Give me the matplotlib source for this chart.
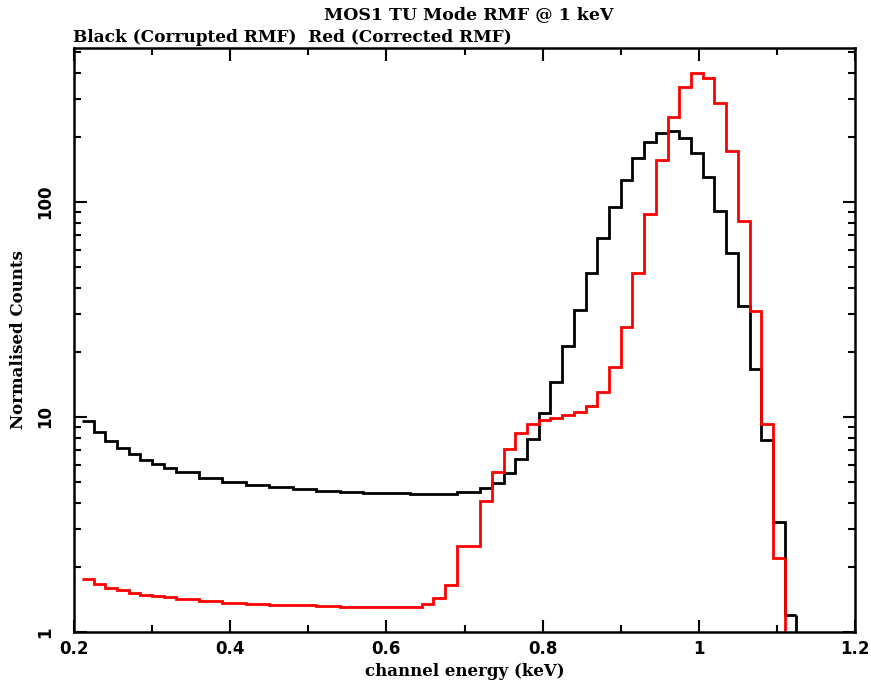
import numpy as np
import matplotlib
matplotlib.use("Agg")
import matplotlib.pyplot as plt
from matplotlib.ticker import FixedLocator, NullFormatter, FixedFormatter

# channel bins (keV), width 0.015 keV starting at 0.21
bin_start = 0.21
bin_width = 0.015

# Black: corrupted RMF
corrupted = [9.58, 8.49, 7.73, 7.15, 6.73, 6.29, 6.03, 5.77, 5.55, 5.55,
             5.20, 5.20, 4.98, 4.98, 4.83, 4.83, 4.70, 4.70, 4.61, 4.61,
             4.53, 4.53, 4.47, 4.47, 4.42, 4.42, 4.42, 4.42, 4.39, 4.39,
             4.39, 4.39, 4.50, 4.50, 4.66, 4.92, 5.47, 6.35, 7.90, 10.4,
             14.6, 21.3, 31.6, 46.7, 67.8, 95.0, 127, 160, 191, 210,
             214, 199, 169, 130, 90.8, 58.1, 32.7, 16.8, 7.82, 3.24,
             1.20]

# Red: corrected RMF
corrected = [1.76, 1.68, 1.61, 1.56, 1.52, 1.49, 1.47, 1.45, 1.42, 1.42,
             1.39, 1.39, 1.36, 1.36, 1.35, 1.35, 1.34, 1.34, 1.33, 1.33,
             1.32, 1.32, 1.31, 1.31, 1.30, 1.30, 1.30, 1.30, 1.31, 1.35,
             1.44, 1.66, 2.51, 2.51, 4.08, 5.55, 7.10, 8.40, 9.28, 9.68,
             9.93, 10.2, 10.5, 11.3, 13.0, 17.0, 26.3, 46.9, 87.6, 157,
             249, 342, 397, 379, 288, 173, 81.6, 31.1, 9.25, 2.22]

xticks = [0.2, 0.4, 0.6, 0.8, 1.0, 1.2]
xtick_labels = ["0.2", "0.4", "0.6", "0.8", "1", "1.2"]
yticks = [1, 10, 100]
ytick_labels = ["1", "10", "100"]

serif = "DejaVu Serif"

fig = plt.figure(figsize=(8.71, 6.87), dpi=100)
ax = fig.add_axes([74 / 871, 55 / 687, 781 / 871, 584 / 687])

for vals, col in [(corrupted, "black"), (corrected, "red")]:
    vals = np.array(vals)
    edges = bin_start + bin_width * np.arange(len(vals) + 1)
    ax.stairs(vals, edges, baseline=None, color=col, lw=2)
    # drop to the axis after the last channel
    ax.vlines(edges[-1], 0.5, vals[-1], color=col, lw=2)

ax.set_xlim(0.2, 1.2)
ax.set_yscale("log")
ax.set_ylim(1, 520)

ax.xaxis.set_major_locator(FixedLocator(xticks))
ax.xaxis.set_major_formatter(FixedFormatter(xtick_labels))
ax.xaxis.set_minor_locator(FixedLocator(np.arange(0.3, 1.2, 0.2)))
ax.yaxis.set_major_locator(FixedLocator(yticks))
ax.yaxis.set_major_formatter(FixedFormatter(ytick_labels))
ax.yaxis.set_minor_locator(FixedLocator([m * d for d in [1, 10, 100] for m in range(2, 10)]))
ax.yaxis.set_minor_formatter(NullFormatter())

ax.tick_params(which="both", direction="in", top=True, right=True, width=1.5)
ax.tick_params(which="major", length=9, labelsize=12)
ax.tick_params(axis="x", which="major", pad=6)
ax.tick_params(axis="y", which="major", pad=14)
ax.tick_params(which="minor", length=5)
for lab in ax.get_xticklabels():
    lab.set_fontweight("bold")
for lab in ax.get_yticklabels():
    lab.set_fontweight("bold")
    lab.set_rotation(90)
    lab.set_va("center")
for s in ax.spines.values():
    s.set_linewidth(1.8)

ax.set_xlabel("channel energy (keV)", fontsize=12, fontweight="bold", family=serif, labelpad=3)
ax.set_ylabel("Normalised Counts", fontsize=12, fontweight="bold", family=serif, labelpad=7)

fig.text(469 / 871, 1 - 15 / 687, "MOS1 TU Mode RMF @ 1 keV", ha="center", va="center",
         fontsize=12.5, fontweight="bold", family=serif)
fig.text(73 / 871, 1 - 37 / 687, "Black (Corrupted RMF)  Red (Corrected RMF)", ha="left", va="center",
         fontsize=12.2, fontweight="bold", family=serif)

fig.savefig("out.png", dpi=100)
